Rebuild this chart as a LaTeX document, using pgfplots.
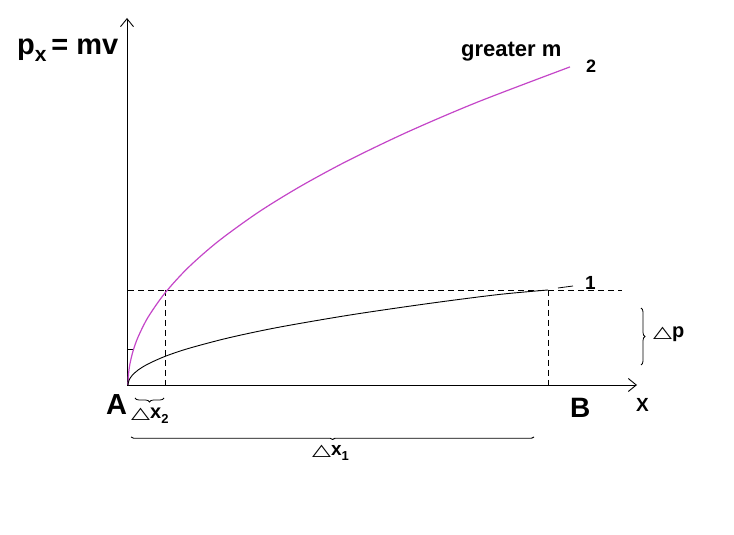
\documentclass[border=0pt]{standalone}
\usepackage{pgfplots}
\pgfplotsset{compat=1.18}
\usepackage{fontspec}
\setmainfont{Liberation Sans}
\newfontfamily\symfont{DejaVu Sans}
\usetikzlibrary{arrows.meta,decorations.pathreplacing}
\definecolor{curvemag}{RGB}{196,70,200}
\newcommand{\tri}{{\symfont\fontsize{17}{17}\selectfont\scalebox{1.45}[0.95]{△}}}
\newcommand{\sub}[2]{\raisebox{-#1}{\fontsize{13}{13}\selectfont #2}}
\begin{document}
\begin{tikzpicture}
\begin{axis}[
    scale only axis,
    width=734pt, height=535pt,
    xmin=0, xmax=734, ymin=0, ymax=535,
    axis lines=none, ticks=none, clip=false,
]
\path (axis cs:0,0) rectangle (axis cs:734,535);

% axes
\addplot[black, line width=0.9pt, -{Straight Barb[length=8pt,width=13pt]}] coordinates {(127,150) (127,517)};
\addplot[black, line width=0.9pt, -{Straight Barb[length=8pt,width=13pt]}] coordinates {(127,150) (637,150)};
\addplot[black, line width=0.8pt] coordinates {(127,186) (133,186)};

% guide lines
\addplot[black, line width=0.8pt, dash pattern=on 6pt off 4pt] coordinates {(128,245) (622,245)};
\addplot[black, line width=0.8pt, dash pattern=on 6pt off 4pt] coordinates {(165,245) (165,147)};
\addplot[black, line width=0.8pt, dash pattern=on 6pt off 4pt] coordinates {(548,245) (548,147)};

% curve 2: greater m
\addplot[curvemag, line width=1.2pt, smooth] coordinates {
    (128,150) (128.5,160.7) (130,171.4) (133,183.8) (138,197.8)
    (148,217.7) (165,242.0) (188,267.2) (218,293.5) (258,322.5)
    (300,348.4) (348,374.4) (408,403.2) (478,433.1) (570,468.1)
};
% curve 1
\addplot[black, line width=0.9pt, smooth] coordinates {
    (128,150) (129,154.7) (132,159.4) (138,164.9) (148,171.0)
    (165,178.6) (188,186.4) (228,197.0) (278,207.6) (350,220.0)
    (428,231.4) (498,240.4) (548,245.0)
};
\addplot[black, line width=0.8pt] coordinates {(558,247) (573,249)};

% labels
\node[anchor=base west, font=\bfseries\fontsize{29}{29}\selectfont, inner sep=0pt]
    at (axis cs:17,480) {p\raisebox{-7pt}{\fontsize{21}{21}\selectfont x}\,= mv};
\node[anchor=base west, font=\bfseries\fontsize{22}{22}\selectfont, inner sep=0pt]
    at (axis cs:461,478) {greater m};
\node[anchor=base west, font=\bfseries\fontsize{18}{18}\selectfont, inner sep=0pt]
    at (axis cs:586,462) {2};
\node[anchor=base west, font=\bfseries\fontsize{19}{19}\selectfont, inner sep=0pt]
    at (axis cs:585,245) {1};
\node[anchor=base west, font=\bfseries\fontsize{29}{29}\selectfont, inner sep=0pt]
    at (axis cs:106,120) {A};
\node[anchor=base west, font=\bfseries\fontsize{28}{28}\selectfont, inner sep=0pt]
    at (axis cs:570,117) {B};
\node[anchor=base west, font=\bfseries\fontsize{19}{19}\selectfont, inner sep=0pt]
    at (axis cs:636,123) {X};

% delta p
\draw[line width=0.8pt, decorate, decoration={brace, amplitude=4pt}]
    (axis cs:641,227) -- (axis cs:641,170);
\node[anchor=base west, inner sep=0pt]
    at (axis cs:653,197) {\tri\bfseries\fontsize{20}{20}\selectfont p};

% delta x2
\draw[line width=0.8pt, decorate, decoration={brace, amplitude=4pt}]
    (axis cs:164,137) -- (axis cs:135,137);
\node[anchor=base west, inner sep=0pt]
    at (axis cs:131,116) {\tri\bfseries\fontsize{20}{20}\selectfont x\sub{5pt}{2}};

% delta x1
\draw[line width=0.9pt, decorate, decoration={brace, amplitude=2.5pt}]
    (axis cs:534,98) -- (axis cs:131,98);
\node[anchor=base west, inner sep=0pt]
    at (axis cs:312,79) {\tri\bfseries\fontsize{19}{19}\selectfont x\sub{5pt}{1}};
\end{axis}
\end{tikzpicture}
\end{document}
